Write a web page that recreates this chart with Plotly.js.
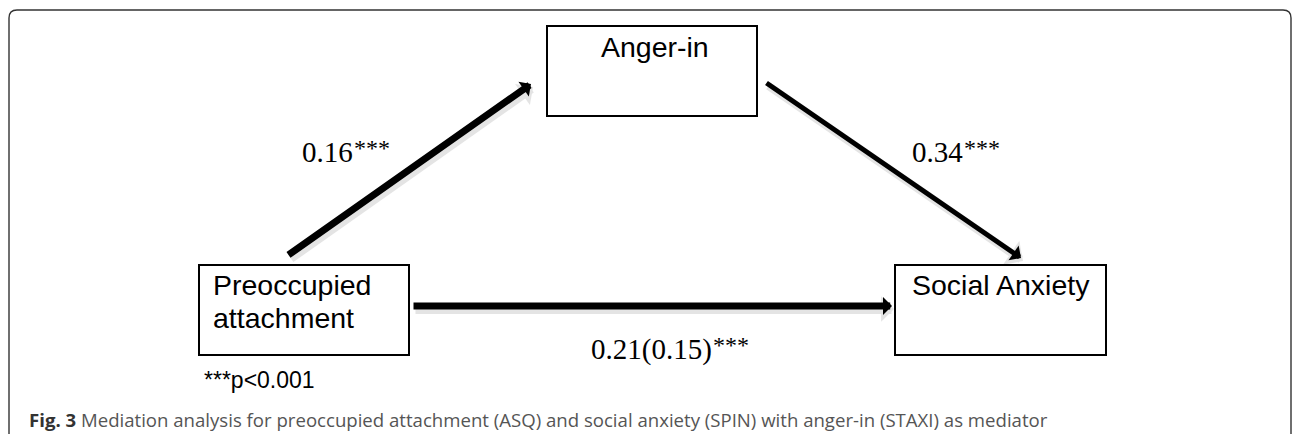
<!DOCTYPE html>
<html>
<head>
<meta charset="utf-8">
<script src="https://cdn.plot.ly/plotly-3.0.1.min.js"></script>
<style>
  html, body { margin: 0; padding: 0; background: #ffffff; }
  #chart { width: 1292px; height: 434px; }
</style>
</head>
<body>
<div id="chart"></div>
<script>
// ---- Diagram content ----
const nodeLabels = ['Anger-in', 'Preoccupied attachment', 'Social Anxiety'];
const pathLabels = ['a', 'b', 'c'];               // a: X->M, b: M->Y, c: X->Y
const pathCoefficients = ['0.16', '0.34', '0.21(0.15)'];
const pathSignificance = ['***', '***', '***'];
const noteStars = '***';
const noteText = 'p<0.001';
const captionLabel = 'Fig. 3';
const captionText = 'Mediation analysis for preoccupied attachment (ASQ) and social anxiety (SPIN) with anger-in (STAXI) as mediator';

// ---- Layout geometry (diagram coordinates, pixel-like) ----
const W = 1292, H = 434;
const boxes = {
  'Anger-in':               {x0: 547, x1: 757,  y0: 26,  y1: 116},
  'Preoccupied attachment': {x0: 199, x1: 409,  y0: 265, y1: 355},
  'Social Anxiety':         {x0: 895, x1: 1106, y0: 265, y1: 355}
};
const arrows = {
  a: {x0: 287, y0: 256, x1: 531, y1: 84,  w: 7},
  b: {x0: 765, y0: 82,  x1: 1021, y1: 258, w: 5},
  c: {x0: 412, y0: 306, x1: 892, y1: 306, w: 7}
};
const coefPos = {
  a: {x: 300, y: 152},
  b: {x: 910, y: 152},
  c: {x: 589, y: 349}
};

const shapes = [];
const annotations = [];

// outer frame with rounded top corners
shapes.push({
  type: 'path', xref: 'x', yref: 'y',
  path: 'M9,440 V18 Q9,10 17,10 H1283 Q1291,10 1291,18 V440',
  line: {color: '#333333', width: 1.4}
});

// boxes
nodeLabels.forEach(name => {
  const b = boxes[name];
  shapes.push({type: 'rect', xref: 'x', yref: 'y', x0: b.x0, x1: b.x1, y0: b.y0, y1: b.y1,
    line: {color: '#000000', width: 2}, fillcolor: 'rgba(0,0,0,0)'});
});

const boxFont = {family: 'Liberation Sans, Arial, sans-serif', size: 28.5, color: '#000000'};

// box labels
annotations.push({xref: 'x', yref: 'y', x: (boxes['Anger-in'].x0 + boxes['Anger-in'].x1) / 2 + 3, y: 47,
  text: nodeLabels[0], showarrow: false, xanchor: 'center', yanchor: 'middle', font: boxFont});
nodeLabels[1].split(' ').forEach((line, i) => {
  annotations.push({xref: 'x', yref: 'y', x: boxes['Preoccupied attachment'].x0 + 12, y: 285 + i * 33,
    text: line, showarrow: false, xanchor: 'left', yanchor: 'middle', font: boxFont});
});
annotations.push({xref: 'x', yref: 'y', x: (boxes['Social Anxiety'].x0 + boxes['Social Anxiety'].x1) / 2, y: 285,
  text: nodeLabels[2], showarrow: false, xanchor: 'center', yanchor: 'middle', font: boxFont});

// arrows (shadow first, then arrow)
pathLabels.forEach(k => {
  const a = arrows[k];
  annotations.push({xref: 'x', yref: 'y', axref: 'x', ayref: 'y',
    x: a.x1 + 2, y: a.y1 + 3, ax: a.x0 + 2, ay: a.y0 + 3, text: '',
    showarrow: true, arrowhead: 1, arrowsize: 3 / a.w, arrowwidth: a.w + 3,
    arrowcolor: 'rgba(0,0,0,0.10)', standoff: 0, startstandoff: 0});
  annotations.push({xref: 'x', yref: 'y', axref: 'x', ayref: 'y',
    x: a.x1, y: a.y1, ax: a.x0, ay: a.y0, text: '',
    showarrow: true, arrowhead: 1, arrowsize: 3 / a.w, arrowwidth: a.w,
    arrowcolor: '#000000', standoff: 0, startstandoff: 0});
});

// coefficients, with raised significance stars placed right after the number
const coefFont = {family: 'Liberation Serif, Times New Roman, serif', size: 29, color: '#000000'};
const starFont = {family: 'Liberation Serif, Times New Roman, serif', size: 24, color: '#000000'};
const ctx = document.createElement('canvas').getContext('2d');
ctx.font = '29px "Liberation Serif"';
pathLabels.forEach((k, i) => {
  const p = coefPos[k];
  annotations.push({xref: 'x', yref: 'y', x: p.x, y: p.y,
    text: pathCoefficients[i], showarrow: false, xanchor: 'left', yanchor: 'middle', font: coefFont});
  const wNum = ctx.measureText(pathCoefficients[i]).width;
  annotations.push({xref: 'x', yref: 'y', x: p.x + wNum + 1, y: p.y - 4,
    text: pathSignificance[i], showarrow: false, xanchor: 'left', yanchor: 'middle', font: starFont});
});

// significance note
annotations.push({xref: 'x', yref: 'y', x: 202, y: 380,
  text: noteStars + noteText, showarrow: false,
  xanchor: 'left', yanchor: 'middle',
  font: {family: 'Liberation Sans, Arial, sans-serif', size: 23, color: '#000000'}});

// caption
annotations.push({xref: 'x', yref: 'y', x: 27, y: 419,
  text: '<b><span style="color:#333333">' + captionLabel + '</span></b> ' + captionText,
  showarrow: false, xanchor: 'left', yanchor: 'middle',
  font: {family: 'Open Sans, sans-serif', size: 18.6, color: '#555555'}});

const layout = {
  width: W, height: H,
  margin: {l: 0, r: 0, t: 0, b: 0, pad: 0},
  paper_bgcolor: '#ffffff', plot_bgcolor: '#ffffff',
  xaxis: {range: [0, W], visible: false, fixedrange: true},
  yaxis: {range: [H, 0], visible: false, fixedrange: true},
  showlegend: false,
  shapes: shapes,
  annotations: annotations
};

Plotly.newPlot('chart', [{x: [], y: [], type: 'scatter', mode: 'markers', hoverinfo: 'skip'}], layout,
  {staticPlot: true, displayModeBar: false});
</script>
</body>
</html>
